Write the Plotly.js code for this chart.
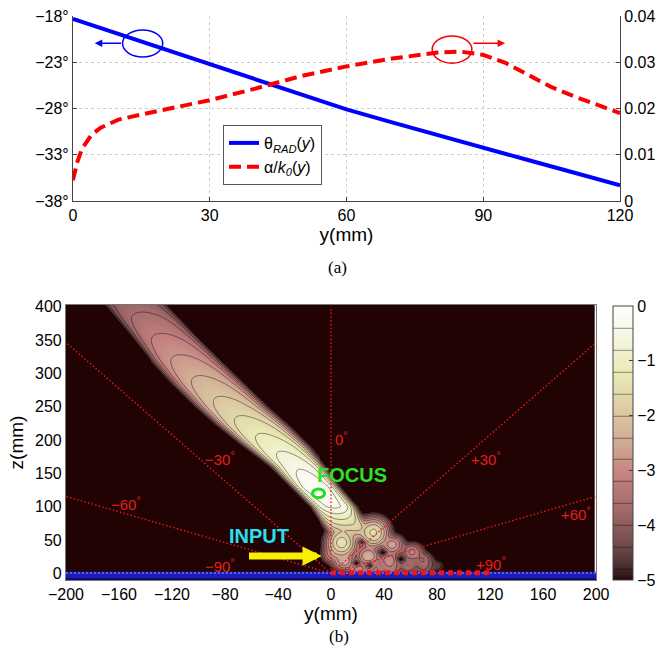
<!DOCTYPE html>
<html><head><meta charset="utf-8">
<script src="https://cdn.plot.ly/plotly-3.0.1.min.js"></script>
<style>html,body{margin:0;padding:0;background:#fff}</style>
</head><body><div id="chart" style="width:659px;height:658px"></div>
<script>
// ---------- Panel (a) data ----------
const thetaY   = [0, 10, 20, 30, 40, 50, 60, 70, 80, 90, 100, 110, 120];
const thetaDeg = [-18.3, -19.95, -21.6, -23.25, -24.9, -26.5, -28.1, -29.5, -30.9, -32.3, -33.6, -34.95, -36.3];
const alphaY   = [0, 1, 2, 3, 4, 6, 8, 10, 15, 20, 25, 30, 40, 50, 60, 70, 80, 85, 90, 95, 100, 105, 110, 115, 120];
const alphaK   = [0.0045, 0.0085, 0.0113, 0.0128, 0.0142, 0.0158, 0.0168, 0.0176, 0.0187, 0.0197, 0.0207, 0.0218,
                  0.0243, 0.0270, 0.0291, 0.0308, 0.0321, 0.0323, 0.0316, 0.0298, 0.0272, 0.0246, 0.0226, 0.0208, 0.0190];
const leftTicks = [-38, -33, -28, -23, -18];
const leftTickText = leftTicks.map(v => '−' + Math.abs(v) + '°');
const rightTicks = [0, 0.01, 0.02, 0.03, 0.04];
const xTicksA = [0, 30, 60, 90, 120];

// ---------- Panel (b) data ----------
// beam axis samples: height z, centre y, axis level, half width of the -5 edge
const beamZ  = [20, 45, 70, 100, 130, 160, 190, 220, 250, 285, 320, 360, 400, 415];
const beamYc = [24, 18, 11, 2, -12, -25, -41, -58, -75, -93, -110, -128, -146, -153];
const beamA  = [-6, -3.4, -1.7, -0.3, -0.05, -0.45, -0.9, -1.35, -1.8, -2.25, -2.7, -3.2, -3.7, -3.85];
const beamH  = [13, 16, 18, 19, 20, 22, 26, 28, 28, 28, 27, 25, 24, 24];
// near-field lobes (centre y, centre z, peak level)
const lobeY = [8, 32, 20, 46, 61, 69, 28, 44, 10, 21, 33, 45, 58, 80, 2, 70];
const lobeZ = [46, 61, 70, 43, 32, 20, 26, 20, 19, 7, 7, 6, 12, 12, 30, 8];
const lobeL = [-1.4, -1.5, -2.2, -2.6, -3.1, -3.6, -2.4, -2.9, -2.5, -3.0, -3.1, -3.4, -3.6, -4.6, -2.9, -4.0];
// nulls between lobes
const nullY = [23, 39, 52, 19, 29];
const nullZ = [47, 32, 22, 16, 12];
const angDeg = [-60, -30, 0, 30, 60];
const xTicksB = [-200, -160, -120, -80, -40, 0, 40, 80, 120, 160, 200];
const zTicksB = [0, 50, 100, 150, 200, 250, 300, 350, 400];
const cbTicks = [-5, -4, -3, -2, -1, 0];

function interp(xs, ys, x) {
  if (x <= xs[0]) return ys[0];
  const n = xs.length;
  if (x >= xs[n - 1]) return ys[n - 1];
  for (let i = 1; i < n; i++) if (x <= xs[i]) {
    const t = (x - xs[i - 1]) / (xs[i] - xs[i - 1]);
    return ys[i - 1] + t * (ys[i] - ys[i - 1]);
  }
}
const gy = [], gz = [];
for (let i = 0; i <= 266; i++) gy.push(-200 + i * 1.5);
for (let j = 0; j <= 276; j++) gz.push(-10 + j * 1.5);
const field = gz.map(z => {
  const A = interp(beamZ, beamA, z), yc = interp(beamZ, beamYc, z), h = interp(beamZ, beamH, z);
  const coef = Math.max(5 + A, 1);
  return gy.map(y => {
    const u = (y - yc) / h, u2 = u * u;
    let I = Math.pow(10, A - coef * (0.25 * u2 + 0.75 * u2 * u2 * u2));
    for (let k = 0; k < lobeY.length; k++) {
      const sy = k < 2 ? 4 : 3.5, sz = k < 2 ? 8 : 6;
      const a = (y - lobeY[k]) / sy, b = (z - lobeZ[k]) / sz;
      I += Math.pow(10, lobeL[k]) * Math.exp(-0.5 * (a * a + b * b));
    }
    for (let k = 0; k < nullY.length; k++) {
      const a = (y - nullY[k]) / 2.6, b = (z - nullZ[k]) / 4;
      I *= 1 - 0.9995 * Math.exp(-0.5 * (a * a + b * b));
    }
    return Math.max(-5.3, Math.log10(I + 1e-8));
  });
});

const pink = [[0,'rgb(34,3,3)'],[0.02,'rgb(54,28,28)'],[0.0625,'rgb(82,52,52)'],[0.125,'rgb(112,74,74)'],
  [0.25,'rgb(159,104,104)'],[0.375,'rgb(195,128,128)'],[0.5,'rgb(208,170,147)'],[0.625,'rgb(221,204,165)'],
  [0.75,'rgb(233,233,180)'],[0.875,'rgb(244,244,221)'],[1,'rgb(255,255,255)']];

const W = 659, H = 658;
const FONT = 'Liberation Sans, Arial, Helvetica, sans-serif';

const traces = [
  {x: thetaY, y: thetaDeg, type: 'scatter', mode: 'lines', name: 'θ<sub><i>RAD</i></sub>(<i>y</i>)',
   line: {color: 'rgb(0,0,255)', width: 4}, xaxis: 'x', yaxis: 'y', hoverinfo: 'skip'},
  {x: alphaY, y: alphaK, type: 'scatter', mode: 'lines', name: 'α/<i>k</i><sub><i>0</i></sub>(<i>y</i>)',
   line: {color: 'rgb(250,0,0)', width: 4, dash: '12px,6px'}, xaxis: 'x', yaxis: 'y2', hoverinfo: 'skip'},
  {type: 'contour', x: gy, y: gz, z: field, xaxis: 'x2', yaxis: 'y3', showlegend: false,
   zauto: false, zmin: -5, zmax: 0, colorscale: pink, autocontour: false,
   contours: {coloring: 'heatmap', start: -4.8, end: -0.4, size: 0.4, showlines: true},
   line: {color: 'rgba(0,0,0,0.7)', width: 0.6, smoothing: 1}, hoverinfo: 'skip',
   colorbar: {x: 612.7 / W, xanchor: 'left', xpad: 0, ypad: 0, y: 1 - 443 / H, yanchor: 'middle',
     len: 274 / H, lenmode: 'fraction', thickness: 20, thicknessmode: 'pixels',
     tickvals: cbTicks, ticks: 'inside', ticklen: 4, tickcolor: '#444',
     outlinecolor: '#444', outlinewidth: 1, tickfont: {size: 16, family: FONT}}}
];

const shapes = [];
// panel (a) markers
shapes.push({type: 'circle', xref: 'x', yref: 'y', x0: 10.9, x1: 19.7, y0: -22.43, y1: -19.51,
  line: {color: 'rgb(0,0,255)', width: 1.5}});
shapes.push({type: 'circle', xref: 'x', yref: 'y2', x0: 78.8, x1: 87.5, y0: 0.0298, y1: 0.0357,
  line: {color: 'rgb(250,0,0)', width: 1.5}});
// panel (b): radial dotted lines from the origin
angDeg.forEach(a => {
  const r = a * Math.PI / 180, s = Math.sin(r), c = Math.cos(r);
  const t = Math.min(Math.abs(s) > 1e-9 ? 200 / Math.abs(s) : 1e9, 400 / c);
  shapes.push({type: 'line', xref: 'x2', yref: 'y3', x0: 0, y0: 0, x1: t * s, y1: t * c,
    line: {color: 'rgb(230,25,25)', width: 1.4, dash: '1.5px,2.2px'}});
});
// ground band and antenna
shapes.push({type: 'rect', xref: 'x2', yref: 'y3', x0: -200, x1: 200, y0: -10, y1: 2.5,
  fillcolor: 'rgb(28,28,185)', line: {width: 0}});
shapes.push({type: 'line', xref: 'x2', yref: 'y3', x0: -200, x1: 200, y0: -8.5, y1: -8.5,
  line: {color: 'rgb(12,12,110)', width: 2}});
shapes.push({type: 'line', xref: 'x2', yref: 'y3', x0: -200, x1: 200, y0: 0.5, y1: 0.5,
  line: {color: 'rgb(120,120,255)', width: 1.5, dash: '2px,2px'}});
shapes.push({type: 'line', xref: 'x2', yref: 'y3', x0: alphaY[0], x1: alphaY[alphaY.length - 1], y0: 1, y1: 1,
  line: {color: 'rgb(240,20,20)', width: 5, dash: '5px,4px'}});
// focus marker
shapes.push({type: 'circle', xref: 'x2', yref: 'y3', x0: -14, x1: -4.8, y0: 113.5, y1: 126.5,
  line: {color: 'rgb(30,225,30)', width: 3}});

const red = 'rgb(230,30,30)';
const annotations = [
  {xref: 'x', yref: 'y', axref: 'x', ayref: 'y', x: 4.8, y: -20.95, ax: 10.9, ay: -20.95, text: '',
   showarrow: true, arrowhead: 2, arrowsize: 1, arrowwidth: 1.5, arrowcolor: 'rgb(0,0,255)'},
  {xref: 'x', yref: 'y2', axref: 'x', ayref: 'y2', x: 94.8, y: 0.0341, ax: 87.5, ay: 0.0341, text: '',
   showarrow: true, arrowhead: 2, arrowsize: 1, arrowwidth: 1.5, arrowcolor: 'rgb(250,0,0)'},
  {xref: 'paper', yref: 'paper', x: 338 / W, y: 1 - 267 / H, xanchor: 'center', yanchor: 'middle', text: '(a)',
   showarrow: false, font: {family: 'Liberation Serif, Times New Roman, serif', size: 17}},
  {xref: 'paper', yref: 'paper', x: 340 / W, y: 1 - 636 / H, xanchor: 'center', yanchor: 'middle', text: '(b)',
   showarrow: false, font: {family: 'Liberation Serif, Times New Roman, serif', size: 17}},
  {xref: 'x2', yref: 'y3', axref: 'x2', ayref: 'y3', x: -7, y: 26, ax: -63, ay: 26, text: '',
   showarrow: true, arrowhead: 2, arrowsize: 0.55, arrowwidth: 7, arrowcolor: 'rgb(248,240,0)'},
  {xref: 'x2', yref: 'y3', x: 16, y: 147, text: '<b>FOCUS</b>', showarrow: false,
   font: {family: FONT, size: 20, color: 'rgb(40,225,40)'}},
  {xref: 'x2', yref: 'y3', x: -54, y: 56, text: '<b>INPUT</b>', showarrow: false,
   font: {family: FONT, size: 20, color: 'rgb(40,225,240)'}},
];
const angLabels = [['0<sup>°</sup>', 8, 203], ['−30<sup>°</sup>', -84, 173], ['−60<sup>°</sup>', -155, 105],
  ['−90<sup>°</sup>', -84, 12], ['+30<sup>°</sup>', 117, 173], ['+60<sup>°</sup>', 185, 90], ['+90<sup>°</sup>', 121, 15]];
angLabels.forEach(l => annotations.push({xref: 'x2', yref: 'y3', x: l[1], y: l[2], text: l[0], showarrow: false,
  font: {family: FONT, size: 15, color: red}}));

const axA = {ticks: 'inside', ticklen: 4, tickcolor: '#444', showline: true, linecolor: '#444', linewidth: 1,
  zeroline: false, tickfont: {size: 16}};
const layout = {
  width: W, height: H, margin: {l: 0, r: 0, t: 0, b: 0}, paper_bgcolor: 'white', plot_bgcolor: 'white',
  font: {family: FONT, size: 16, color: '#000'},
  showlegend: true,
  legend: {x: 223 / W, y: 1 - 125 / H, xanchor: 'left', yanchor: 'top', bgcolor: 'white',
    bordercolor: '#555', borderwidth: 1, font: {size: 16}, tracegroupgap: 0},
  xaxis: Object.assign({}, axA, {domain: [73 / W, 621 / W], range: [0, 120], tickvals: xTicksA, anchor: 'y',
    showgrid: true, gridcolor: '#cccccc', griddash: 'dot', title: {text: 'y(mm)', standoff: 2}}),
  yaxis: Object.assign({}, axA, {domain: [1 - 201 / H, 1 - 16 / H], range: [-38, -18], tickvals: leftTicks,
    ticktext: leftTickText, anchor: 'x', showgrid: true, gridcolor: '#cccccc', griddash: 'dot'}),
  yaxis2: Object.assign({}, axA, {overlaying: 'y', side: 'right', anchor: 'x', range: [0, 0.04],
    tickvals: rightTicks, ticktext: ['0', '0.01', '0.02', '0.03', '0.04'], showgrid: false}),
  xaxis2: {domain: [66 / W, 597 / W], range: [-200, 200], anchor: 'y3', tickvals: xTicksB, ticks: '',
    showline: true, mirror: true, linecolor: '#777', zeroline: false, showgrid: false, tickfont: {size: 16},
    title: {text: 'y(mm)', standoff: 2}},
  yaxis3: {domain: [1 - 580 / H, 1 - 305 / H], range: [-10, 402.5], anchor: 'x2', tickvals: zTicksB, ticks: '',
    showline: true, mirror: true, linecolor: '#777', zeroline: false, showgrid: false, tickfont: {size: 16},
    title: {text: 'z(mm)', standoff: 6}},
  shapes: shapes, annotations: annotations
};
Plotly.newPlot('chart', traces, layout, {displayModeBar: false, staticPlot: true});
</script></body></html>
